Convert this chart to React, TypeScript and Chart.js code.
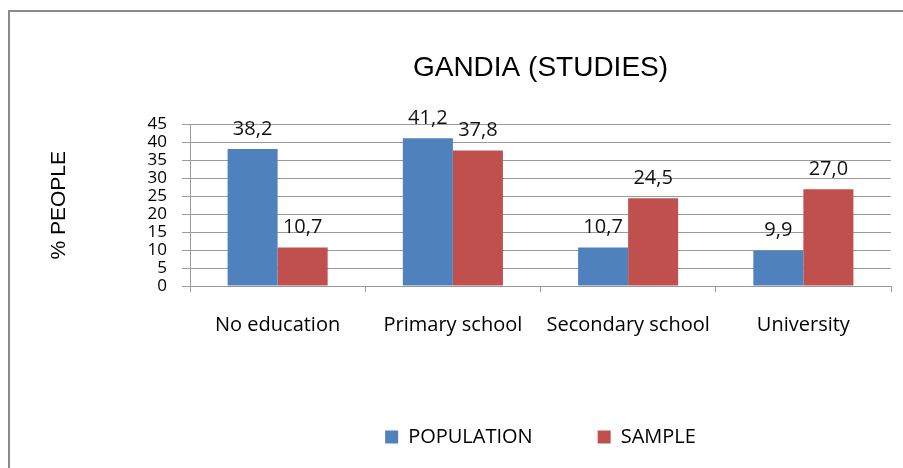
import React, { useEffect, useRef } from "react";
import { Chart, registerables } from "chart.js";

Chart.register(...registerables);

const categories = ["No education", "Primary school", "Secondary school", "University"];
const populationValues = [38.2, 41.2, 10.7, 9.9];
const sampleValues = [10.7, 37.8, 24.5, 27.0];
const seriesNames = ["POPULATION", "SAMPLE"];
const titleText = "GANDIA (STUDIES)";
const yAxisTitle = "% PEOPLE";
const yMin = 0;
const yMax = 45;
const yStep = 5;

const BLUE = "#4F81BD";
const RED = "#C0504D";
const GRID = "#9a9a9a";

const valueLabels = {
  id: "valueLabels",
  afterDatasetsDraw(chart: any) {
    const ctx = chart.ctx;
    ctx.save();
    ctx.font = '20px "Open Sans"';
    ctx.fillStyle = "#111";
    ctx.textAlign = "center";
    ctx.textBaseline = "middle";
    chart.data.datasets.forEach((ds: any, di: number) => {
      const meta = chart.getDatasetMeta(di);
      meta.data.forEach((bar: any, i: number) => {
        const v = ds.data[i] as number;
        const txt = v.toFixed(1).replace(".", ",");
        ctx.fillText(txt, bar.x, bar.y - 20);
      });
    });
    ctx.restore();
  },
};

export default function App() {
  const ref = useRef<HTMLCanvasElement | null>(null);

  useEffect(() => {
    if (!ref.current) return;
    const chart = new Chart(ref.current, {
      type: "bar",
      data: {
        labels: categories,
        datasets: [
          {
            label: seriesNames[0],
            data: populationValues,
            backgroundColor: BLUE,
            borderWidth: 0,
            categoryPercentage: 0.571,
            barPercentage: 1,
          },
          {
            label: seriesNames[1],
            data: sampleValues,
            backgroundColor: RED,
            borderWidth: 0,
            categoryPercentage: 0.571,
            barPercentage: 1,
          },
        ],
      },
      plugins: [valueLabels],
      options: {
        responsive: false,
        animation: false,
        devicePixelRatio: 1,
        layout: { padding: { top: 0, left: 0, right: 12, bottom: 11 } },
        plugins: {
          tooltip: { enabled: false },
          title: {
            display: true,
            text: titleText,
            fullSize: false,
            color: "#000",
            font: { family: '"Liberation Sans", Arial, sans-serif', size: 28, weight: "normal", lineHeight: 1.2 },
            padding: { top: 51, bottom: 40 },
          },
          legend: {
            display: true,
            position: "bottom",
            fullSize: false,
            labels: {
              boxWidth: 13,
              boxHeight: 13,
              padding: 65,
              color: "#000",
              font: { family: '"Open Sans"', size: 20 },
            },
          },
        },
        scales: {
          x: {
            grid: {
              display: true,
              drawOnChartArea: false,
              drawTicks: true,
              tickLength: 6,
              color: GRID,
              offset: true,
            },
            border: { display: true, color: GRID },
            ticks: {
              color: "#000",
              padding: 21,
              maxRotation: 0,
              autoSkip: false,
              font: { family: '"Open Sans"', size: 20 },
            },
            afterFit(scale: any) {
              scale.height = 76;
            },
          },
          y: {
            min: yMin,
            max: yMax,
            grid: { color: GRID, tickLength: 8 },
            border: { display: true, color: GRID },
            ticks: {
              stepSize: yStep,
              autoSkip: false,
              color: "#000",
              padding: 15,
              font: { family: '"Open Sans"', size: 17, lineHeight: 1 },
            },
            title: {
              display: true,
              text: yAxisTitle,
              color: "#000",
              font: { family: '"Liberation Sans", Arial, sans-serif', size: 21, lineHeight: 1.2 },
              padding: { top: 47, bottom: 0 },
            },
            afterFit(scale: any) {
              scale.width = 190;
            },
          },
        },
      },
    });
    return () => chart.destroy();
  }, []);

  return (
    <div style={{ position: "fixed", left: 0, top: 0, width: 903, height: 468, background: "#fff" }}>
      <div
        style={{
          position: "absolute",
          left: 8,
          top: 10,
          width: 1000,
          height: 600,
          borderTop: "2px solid #8a8a8a",
          borderLeft: "2px solid #8a8a8a",
        }}
      />
      <canvas
        ref={ref}
        width={903}
        height={468}
        style={{ position: "absolute", left: 0, top: 0, width: 903, height: 468 }}
      />
    </div>
  );
}
